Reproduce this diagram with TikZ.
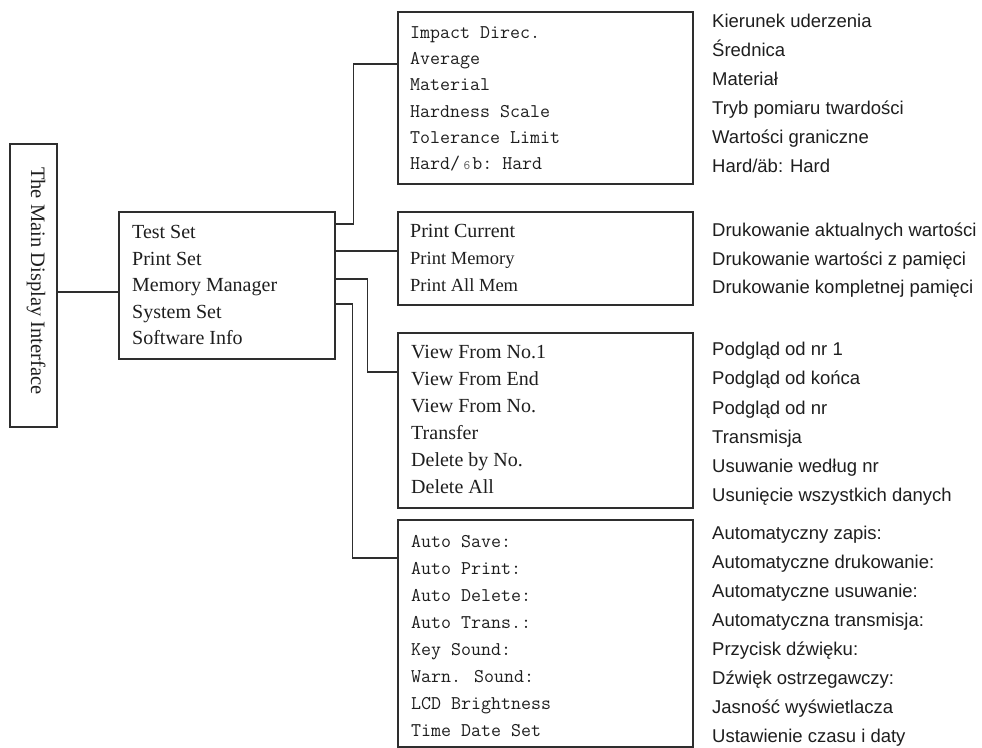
\documentclass[tikz,border=0pt]{standalone}
\usepackage{fontspec}
\setmainfont{Liberation Serif}
\newfontfamily\labelfont{Liberation Sans}
\usetikzlibrary{calc}
\definecolor{linec}{HTML}{2E2E2E}
\definecolor{txtc}{HTML}{1E1E1E}
\begin{document}
\begin{tikzpicture}[x=1pt,y=-1pt,
  box/.style={draw=linec, line width=1.5pt, inner sep=0pt, anchor=north west, fill=none},
  conn/.style={draw=linec, line width=1.5pt},
  sertxt/.style={inner sep=0pt, anchor=base west, text=txtc, font=\fontsize{20}{24}\selectfont},
  sersmall/.style={sertxt, font=\fontsize{18.5}{22}\selectfont},
  monotxt/.style={inner sep=0pt, anchor=base west, text=txtc, font=\ttfamily\fontsize{19.4}{22}\selectfont},
  lbltxt/.style={inner sep=0pt, anchor=base west, text=txtc, font=\labelfont\fontsize{18.5}{22}\selectfont}]
\useasboundingbox (0,0) rectangle (982,747);
\fill[white] (0,0) rectangle (982,747);

% boxes
\node[box, minimum width=47pt, minimum height=283pt] (main) at (9,143) {};
\node[box, minimum width=216pt, minimum height=147pt] (mid) at (118,211) {};
\node[box, minimum width=295pt, minimum height=172pt] (b1) at (397,11) {};
\node[box, minimum width=295pt, minimum height=93pt] (b2) at (397,211) {};
\node[box, minimum width=295pt, minimum height=175pt] (b3) at (397,332) {};
\node[box, minimum width=295pt, minimum height=227pt] (b4) at (397,519) {};

% main title
\node[inner sep=0pt, rotate=-90, text=txtc, font=\fontsize{20.5}{24}\selectfont] (maintext)
  at ($(main.center)+(3,-4.5)$) {The Main Display Interface};

% middle box text
\foreach \t [count=\i from 0] in {Test Set, Print Set, Memory Manager, System Set, Software Info}
  \node[sertxt] (mt\i) at (132, 238.6+26.5*\i) {\t};

% box 1
\foreach \t [count=\i from 0] in {Impact Direc., Average, Material, Hardness Scale, Tolerance Limit,
  {Hard/\makebox[0.525em][r]{\fontsize{13}{13}\selectfont\color{gray!70!black}6}\hspace{0.1em}b:~Hard}}
  \node[monotxt] (b1t\i) at (410, 38.3+26.3*\i) {\t};

% box 2
\node[sertxt] (b2t0) at (410, 237.6) {Print Current};
\node[sersmall] (b2t1) at (410, 264.3) {Print Memory};
\node[sersmall] (b2t2) at (410, 291) {Print All Mem};

% box 3
\foreach \t [count=\i from 0] in {View From No.1, View From End, View From No., Transfer, Delete by No., Delete All}
  \node[sertxt] (b3t\i) at (411, 358.6+27*\i) {\t};

% box 4
\foreach \t [count=\i from 0] in {Auto Save:, Auto Print:, Auto Delete:, Auto Trans.:, Key Sound:,
  {Warn.~\hspace{3pt}Sound:}, LCD Brightness, Time Date Set}
  \node[monotxt] (b4t\i) at (411, 547+27*\i) {\t};

% right labels
\foreach \t [count=\i from 0] in {Kierunek uderzenia, Średnica, Materiał, Tryb pomiaru twardości, Wartości graniczne, Hard/äb: Hard}
  \node[lbltxt] (l1t\i) at (712, 27.6+29*\i) {\t};
\foreach \t [count=\i from 0] in {Drukowanie aktualnych wartości, Drukowanie wartości z pamięci, Drukowanie kompletnej pamięci}
  \node[lbltxt] (l2t\i) at (712, 236.6+28.5*\i) {\t};
\foreach \t [count=\i from 0] in {Podgląd od nr 1, Podgląd od końca, Podgląd od nr, Transmisja, Usuwanie według nr, Usunięcie wszystkich danych}
  \node[lbltxt] (l3t\i) at (712, 355.6+29.2*\i) {\t};
\foreach \t [count=\i from 0] in {Automatyczny zapis:, Automatyczne drukowanie:, Automatyczne usuwanie:, Automatyczna transmisja:, Przycisk dźwięku:, Dźwięk ostrzegawczy:, Jasność wyświetlacza, Ustawienie czasu i daty}
  \node[lbltxt] (l4t\i) at (712, 539.6+29*\i) {\t};

% connectors
\draw[conn] ($(main.north east)+(0,149)$) -- ($(mid.north west)+(0,81)$);
\draw[conn] ($(mid.north east)+(0,13)$) -- ++(18,0) |- ($(b1.north west)+(0,53)$);
\draw[conn] ($(mid.north east)+(0,40)$) -- ($(b2.north west)+(0,40)$);
\draw[conn] ($(mid.north east)+(0,68)$) -- ++(32,0) |- ($(b3.north west)+(0,40)$);
\draw[conn] ($(mid.north east)+(0,93)$) -- ++(17,0) |- ($(b4.north west)+(0,39)$);
\end{tikzpicture}
\end{document}
